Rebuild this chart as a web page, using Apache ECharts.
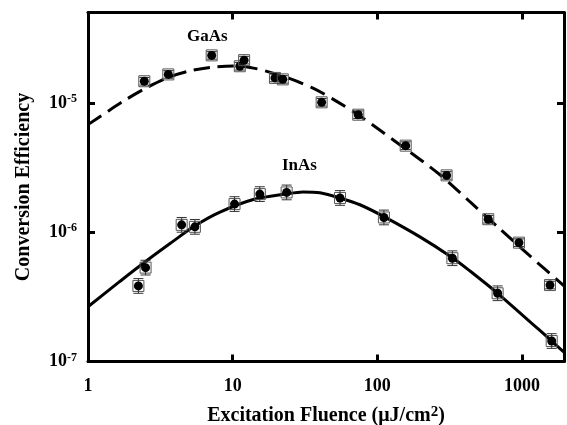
<!DOCTYPE html>
<html>
<head>
<meta charset="utf-8">
<script src="https://cdn.jsdelivr.net/npm/echarts@6/dist/echarts.min.js"></script>
<style>
  html, body { margin: 0; padding: 0; background: #fff; }
  #chart { width: 567px; height: 425px; }
</style>
</head>
<body>
<div id="chart"></div>
<script>
// measured points (fluence in uJ/cm2, efficiency)
const gaasX = [2.45, 3.59, 7.16, 11.2, 12.0, 19.6, 22.2, 41.2, 73.8, 157, 301, 584, 952, 1560];
const gaasY = [1.47e-5, 1.66e-5, 2.33e-5, 1.92e-5, 2.14e-5, 1.56e-5, 1.52e-5, 1.01e-5, 8.1e-6, 4.67e-6, 2.75e-6, 1.26e-6, 8.3e-7, 3.9e-7];
const inasX = [2.23, 2.50, 4.44, 5.48, 10.3, 15.4, 23.6, 55.2, 111, 330, 678, 1603];
const inasY = [3.84e-7, 5.32e-7, 1.14e-6, 1.10e-6, 1.65e-6, 1.97e-6, 2.03e-6, 1.84e-6, 1.30e-6, 6.29e-7, 3.37e-7, 1.44e-7];

// relative error bar size per material
const gaasErr = 0.07;
const inasErr = 0.14;

// fitted curves
const gaasFitX = [1, 1.35, 1.80, 2.48, 3.57, 5.07, 7.31, 10.4, 13.2, 16.7, 24.9, 35.9, 49.3, 73.4, 143, 271, 436, 703, 1134, 1950];
const gaasFitY = [6.79e-6, 8.51e-6, 1.049e-5, 1.29e-5, 1.57e-5, 1.77e-5, 1.89e-5, 1.93e-5, 1.88e-5, 1.77e-5, 1.54e-5, 1.30e-5, 1.07e-5, 8.11e-6, 4.75e-6, 2.78e-6, 1.72e-6, 1.06e-6, 6.55e-7, 3.84e-7];
const inasFitX = [1, 1.66, 2.50, 3.69, 5.49, 8.17, 13.9, 23.6, 30.6, 40.1, 55.2, 75.8, 111, 197, 330, 437, 678, 1603, 1950];
const inasFitY = [2.65e-7, 4.16e-7, 5.93e-7, 8.17e-7, 1.12e-6, 1.43e-6, 1.79e-6, 1.98e-6, 2.05e-6, 2.02e-6, 1.84e-6, 1.63e-6, 1.32e-6, 9.2e-7, 6.35e-7, 5.01e-7, 3.37e-7, 1.44e-7, 1.18e-7];

const xMin = 1, xMax = 1950;
const yMin = 1e-7, yMax = 5e-5;

const font = "'Liberation Serif', 'Times New Roman', serif";

const isPow10 = (v) => Math.abs(Math.log10(v) - Math.round(Math.log10(v))) < 1e-6;

const pairs = (xs, ys) => xs.map((x, i) => [x, ys[i]]);
const withErr = (xs, ys, e) => xs.map((x, i) => [x, ys[i], ys[i] * (1 + e), ys[i] / (1 + e)]);

const renderPoint = (params, api) => {
  const c = api.coord([api.value(0), api.value(1)]);
  const hi = api.coord([api.value(0), api.value(2)]);
  const lo = api.coord([api.value(0), api.value(3)]);
  const h = 5.5;
  const cap = 5;
  return {
    type: 'group',
    children: [
      { type: 'rect', shape: { x: c[0] - h, y: c[1] - h, width: 2 * h, height: 2 * h },
        style: { fill: 'none', stroke: '#555', lineWidth: 1 } },
      { type: 'line', shape: { x1: c[0], y1: hi[1], x2: c[0], y2: lo[1] },
        style: { stroke: '#333', lineWidth: 1 } },
      { type: 'line', shape: { x1: c[0] - cap, y1: hi[1], x2: c[0] + cap, y2: hi[1] },
        style: { stroke: '#333', lineWidth: 1 } },
      { type: 'line', shape: { x1: c[0] - cap, y1: lo[1], x2: c[0] + cap, y2: lo[1] },
        style: { stroke: '#333', lineWidth: 1 } },
      { type: 'circle', shape: { cx: c[0], cy: c[1], r: 4.5 }, style: { fill: '#000' } },
    ],
  };
};

const axisBase = {
  type: 'log',
  logBase: 10,
  axisLine: { show: true, onZero: false, lineStyle: { color: '#000', width: 3 } },
  axisTick: { show: true, inside: true, length: 7, lineStyle: { color: '#000', width: 3 } },
  minorTick: { show: false },
  splitLine: { show: false },
};

const chart = echarts.init(document.getElementById('chart'));

chart.setOption({
  animation: false,
  backgroundColor: '#fff',
  grid: { left: 88, right: 3, top: 12.5, bottom: 63.5, outerBoundsMode: 'none', containLabel: false },
  xAxis: [
    {
      ...axisBase,
      position: 'bottom',
      min: xMin,
      max: xMax,
      axisLabel: {
        margin: 16,
        color: '#000',
        fontFamily: font,
        fontWeight: 'bold',
        fontSize: 18,
        formatter: (v) => (isPow10(v) ? String(Math.round(v)) : ''),
      },
      name: '{a|Excitation Fluence (\u03bcJ/cm}{s|2}{a|)}',
      nameLocation: 'middle',
      nameGap: 43,
      nameTextStyle: {
        rich: {
          a: { fontFamily: font, fontWeight: 'bold', fontSize: 20, color: '#000', lineHeight: 22 },
          s: { fontFamily: font, fontWeight: 'bold', fontSize: 15, color: '#000', verticalAlign: 'top' },
        },
      },
    },
    { ...axisBase, position: 'top', min: xMin, max: xMax, axisLabel: { show: false } },
  ],
  yAxis: [
    {
      ...axisBase,
      position: 'left',
      min: yMin,
      max: yMax,
      axisLabel: {
        margin: 11,
        formatter: (v) => (isPow10(v) ? '{b|10}{s|' + Math.round(Math.log10(v)) + '}' : ''),
        rich: {
          b: { fontFamily: font, fontWeight: 'bold', fontSize: 18, color: '#000', lineHeight: 20 },
          s: { fontFamily: font, fontWeight: 'bold', fontSize: 12, color: '#000', verticalAlign: 'top' },
        },
      },
      name: 'Conversion Efficiency',
      nameLocation: 'middle',
      nameGap: 54,
      nameTextStyle: { fontFamily: font, fontWeight: 'bold', fontSize: 20, color: '#000' },
    },
    { ...axisBase, position: 'right', min: yMin, max: yMax, axisLabel: { show: false } },
  ],
  graphic: [
    { type: 'text', left: 187, top: 28, style: { text: 'GaAs', font: 'bold 17px ' + font, fill: '#000' } },
    { type: 'text', left: 282, top: 157, style: { text: 'InAs', font: 'bold 17px ' + font, fill: '#000' } },
  ],
  series: [
    {
      name: 'GaAs fit',
      type: 'line',
      data: pairs(gaasFitX, gaasFitY),
      smooth: 0.3,
      symbol: 'none',
      lineStyle: { color: '#000', width: 3, type: [16, 8] },
      z: 2,
    },
    {
      name: 'InAs fit',
      type: 'line',
      data: pairs(inasFitX, inasFitY),
      smooth: 0.3,
      symbol: 'none',
      lineStyle: { color: '#000', width: 3 },
      z: 2,
    },
    {
      name: 'GaAs',
      type: 'custom',
      renderItem: renderPoint,
      encode: { x: 0, y: 1 },
      data: withErr(gaasX, gaasY, gaasErr),
      z: 5,
    },
    {
      name: 'InAs',
      type: 'custom',
      renderItem: renderPoint,
      encode: { x: 0, y: 1 },
      data: withErr(inasX, inasY, inasErr),
      z: 5,
    },
  ],
});
</script>
</body>
</html>
